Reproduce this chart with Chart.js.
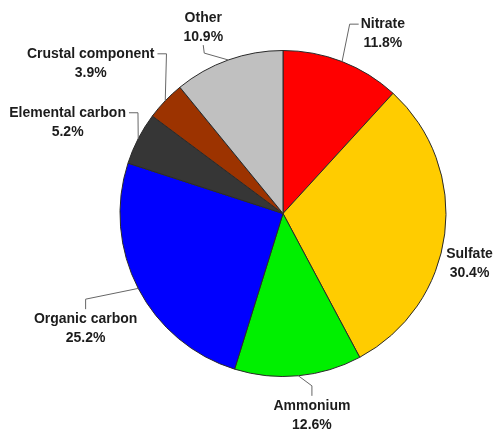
<!DOCTYPE html>
<html>
<head>
<meta charset="utf-8">
<script src="https://cdn.jsdelivr.net/npm/chart.js@4/dist/chart.umd.min.js"></script>
<style>
  html, body { margin: 0; padding: 0; background: #ffffff; }
  #wrap { width: 493px; height: 434px; }
</style>
</head>
<body>
<div id="wrap"><canvas id="pie" width="493" height="434"></canvas></div>
<script>
// Composition shares (%), clockwise from 12 o'clock
const components = ['Nitrate', 'Sulfate', 'Ammonium', 'Organic carbon', 'Elemental carbon', 'Crustal component', 'Other'];
const shares = [11.8, 30.4, 12.6, 25.2, 5.2, 3.9, 10.9];
const sliceColors = ['#ff0000', '#ffcc00', '#00f000', '#0000ff', '#363636', '#9c3300', '#c0c0c0'];

// Where each callout sits: distance (in radii) and turn (deg) from the slice middle,
// plus which side of the text block the leader line joins.
const calloutPlacement = [
  { dist: 1.262, turn: 7.8,  attach: 'left' },
  { dist: 1.185, turn: 7.9,  attach: 'none' },
  { dist: 1.251, turn: -2.75, attach: 'top' },
  { dist: 1.402, turn: -2.9, attach: 'top' },
  { dist: 1.435, turn: -4.4, attach: 'right' },
  { dist: 1.497, turn: -5.75, attach: 'right' },
  { dist: 1.241, turn: -3.6, attach: 'bottom' }
];

const calloutPlugin = {
  id: 'callouts',
  afterDatasetsDraw(chart) {
    const ctx = chart.ctx;
    const meta = chart.getDatasetMeta(0);
    const values = chart.data.datasets[0].data;
    const lineGap = 19;
    ctx.save();
    ctx.font = 'bold 14px "Liberation Sans", Arial, sans-serif';
    ctx.textAlign = 'center';
    ctx.textBaseline = 'middle';
    meta.data.forEach((arc, i) => {
      const p = arc.getProps(['x', 'y', 'startAngle', 'endAngle', 'outerRadius'], true);
      const mid = (p.startAngle + p.endAngle) / 2;
      const place = calloutPlacement[i];
      const a = mid + place.turn * Math.PI / 180;
      const cx = p.x + Math.cos(a) * p.outerRadius * place.dist;
      const cy = p.y + Math.sin(a) * p.outerRadius * place.dist;
      const name = chart.data.labels[i];
      const pct = values[i].toFixed(1) + '%';
      const y1 = cy - lineGap / 2;
      const y2 = cy + lineGap / 2;

      // leader line from the slice edge to the text block
      if (place.attach !== 'none') {
        const ex = p.x + Math.cos(mid) * p.outerRadius;
        const ey = p.y + Math.sin(mid) * p.outerRadius;
        const w = ctx.measureText(name).width;
        let tx, ty, kx, ky;
        if (place.attach === 'left') { tx = cx - w / 2 - 2; ty = y1; kx = tx - 9; ky = ty; }
        else if (place.attach === 'right') { tx = cx + w / 2 + 3; ty = y1; kx = tx + 9; ky = ty; }
        else if (place.attach === 'top') { tx = cx; ty = y1 - 10; kx = tx; ky = ty - 10; }
        else { tx = cx; ty = y2 + 8; kx = tx + 1; ky = ty + 8; }
        ctx.strokeStyle = '#666666';
        ctx.lineWidth = 1;
        ctx.beginPath();
        ctx.moveTo(ex, ey);
        ctx.lineTo(kx, ky);
        ctx.lineTo(tx, ty);
        ctx.stroke();
      }

      ctx.fillStyle = '#1c1c1c';
      ctx.fillText(name, cx, y1);
      ctx.fillText(pct, cx, y2);
    });
    ctx.restore();
  }
};

new Chart(document.getElementById('pie'), {
  type: 'pie',
  data: {
    labels: components,
    datasets: [{
      data: shares,
      backgroundColor: sliceColors,
      borderColor: '#2a2a2a',
      borderWidth: 1
    }]
  },
  options: {
    responsive: false,
    animation: false,
    layout: { padding: { left: 119, right: 46, top: 50, bottom: 57 } },
    plugins: {
      legend: { display: false },
      tooltip: { enabled: false }
    }
  },
  plugins: [calloutPlugin]
});
</script>
</body>
</html>
